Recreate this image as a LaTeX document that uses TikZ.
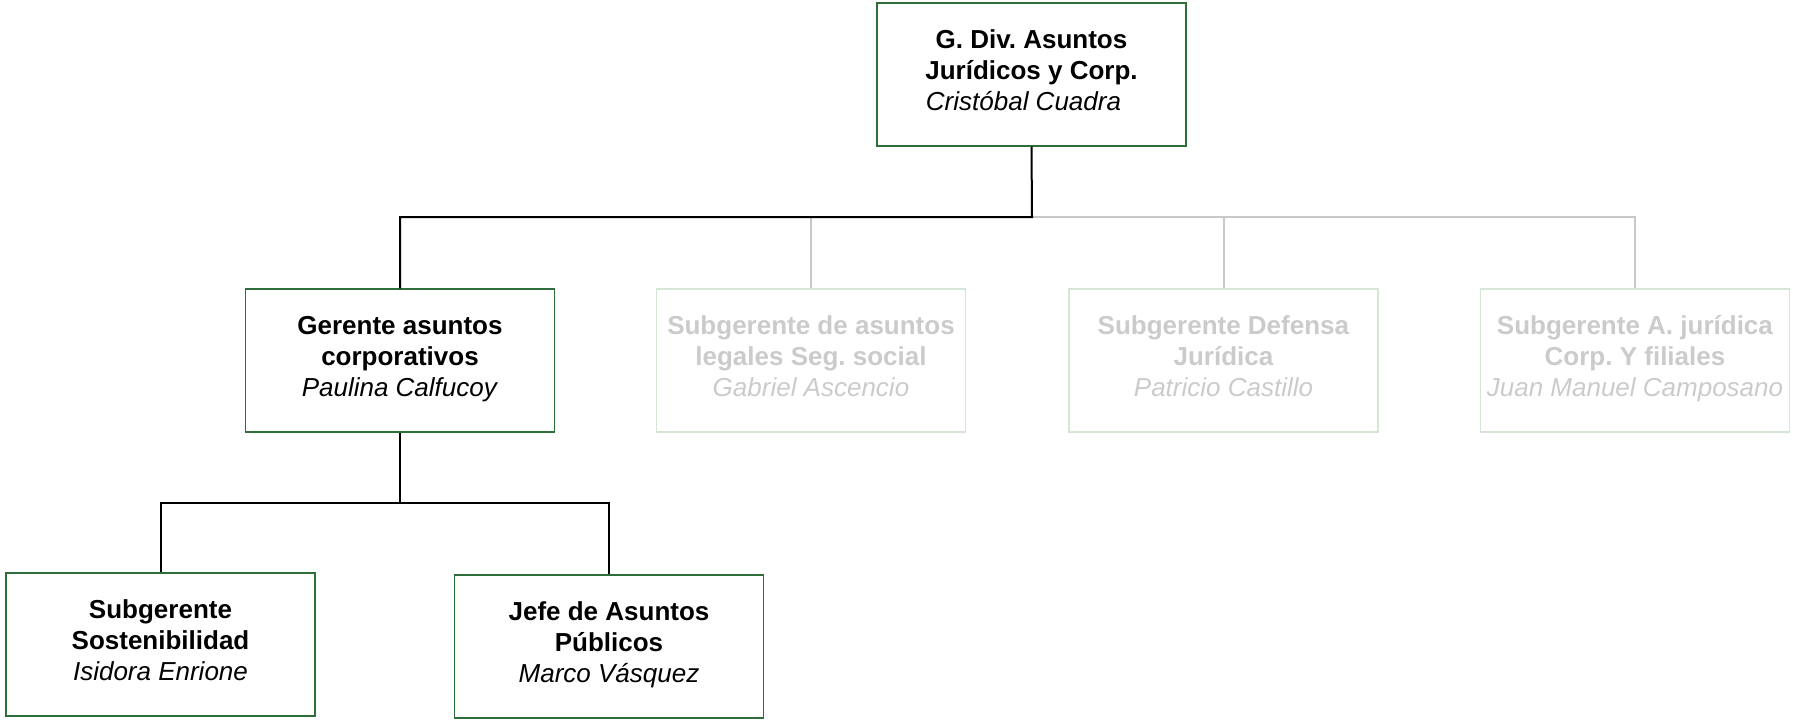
\documentclass[tikz,border=0pt]{standalone}
\usepackage{fontspec}
\setmainfont{Liberation Sans}
\frenchspacing
\definecolor{boxgreen}{HTML}{2E6E3A}
\definecolor{palegreen}{HTML}{D6E6D6}
\definecolor{paletext}{HTML}{CBCBCB}
\definecolor{paleline}{HTML}{C8C8C8}
\begin{document}
\begin{tikzpicture}[x=0.5pt,y=-0.5pt,
  orgbox/.style={draw=boxgreen, line width=0.6pt, rectangle, minimum width=154.5pt, minimum height=71.5pt,
    align=center, inner sep=0pt, text height=40pt, text depth=4.5pt,
    font=\fontsize{13pt}{15.5pt}\selectfont\frenchspacing},
  palebox/.style={orgbox, draw=palegreen, text=paletext},
  link/.style={draw=black, line width=1pt},
  palelink/.style={draw=paleline, line width=1pt}]
\useasboundingbox (0,0) rectangle (1793,719);
\node[orgbox] (top) at (1031.5,74.5) {\textbf{G. Div. Asuntos}\\\textbf{Jurídicos y Corp.}\\\textit{Cristóbal Cuadra}\hspace*{8pt}};
\node[orgbox] (ger) at (400,360.5) {\textbf{Gerente asuntos}\\\textbf{corporativos}\\\textit{Paulina Calfucoy}};
\node[palebox] (seg) at (811,360.5) {\textbf{Subgerente de asuntos}\\\textbf{legales Seg. social}\\\textit{Gabriel Ascencio}};
\node[palebox] (def) at (1223.5,360.5) {\textbf{Subgerente Defensa}\\\textbf{Jurídica}\\\textit{Patricio Castillo}};
\node[palebox] (jur) at (1635,360.5) {\textbf{Subgerente A. jurídica}\\\textbf{Corp. Y filiales}\\\textit{Juan Manuel Camposano}};
\node[orgbox] (sos) at (160.5,644.5) {\textbf{Subgerente}\\\textbf{Sostenibilidad}\\\textit{Isidora Enrione}};
\node[orgbox] (jef) at (609,646.5) {\textbf{Jefe de Asuntos}\\\textbf{Públicos}\\\textit{Marco Vásquez}};
\coordinate (bus1) at (1032,217);
\coordinate (bus2) at (400,503);
\draw[palelink] (bus1) -| (jur.north);
\draw[palelink] (bus1 -| seg.north) -- (seg.north);
\draw[palelink] (bus1 -| def.north) -- (def.north);
\draw[link] (top.south) -- (bus1) -| (ger.north);
\draw[link] (ger.south) -- (bus2);
\draw[link] (bus2) -| (sos.north);
\draw[link] (bus2) -| (jef.north);
\end{tikzpicture}
\end{document}
